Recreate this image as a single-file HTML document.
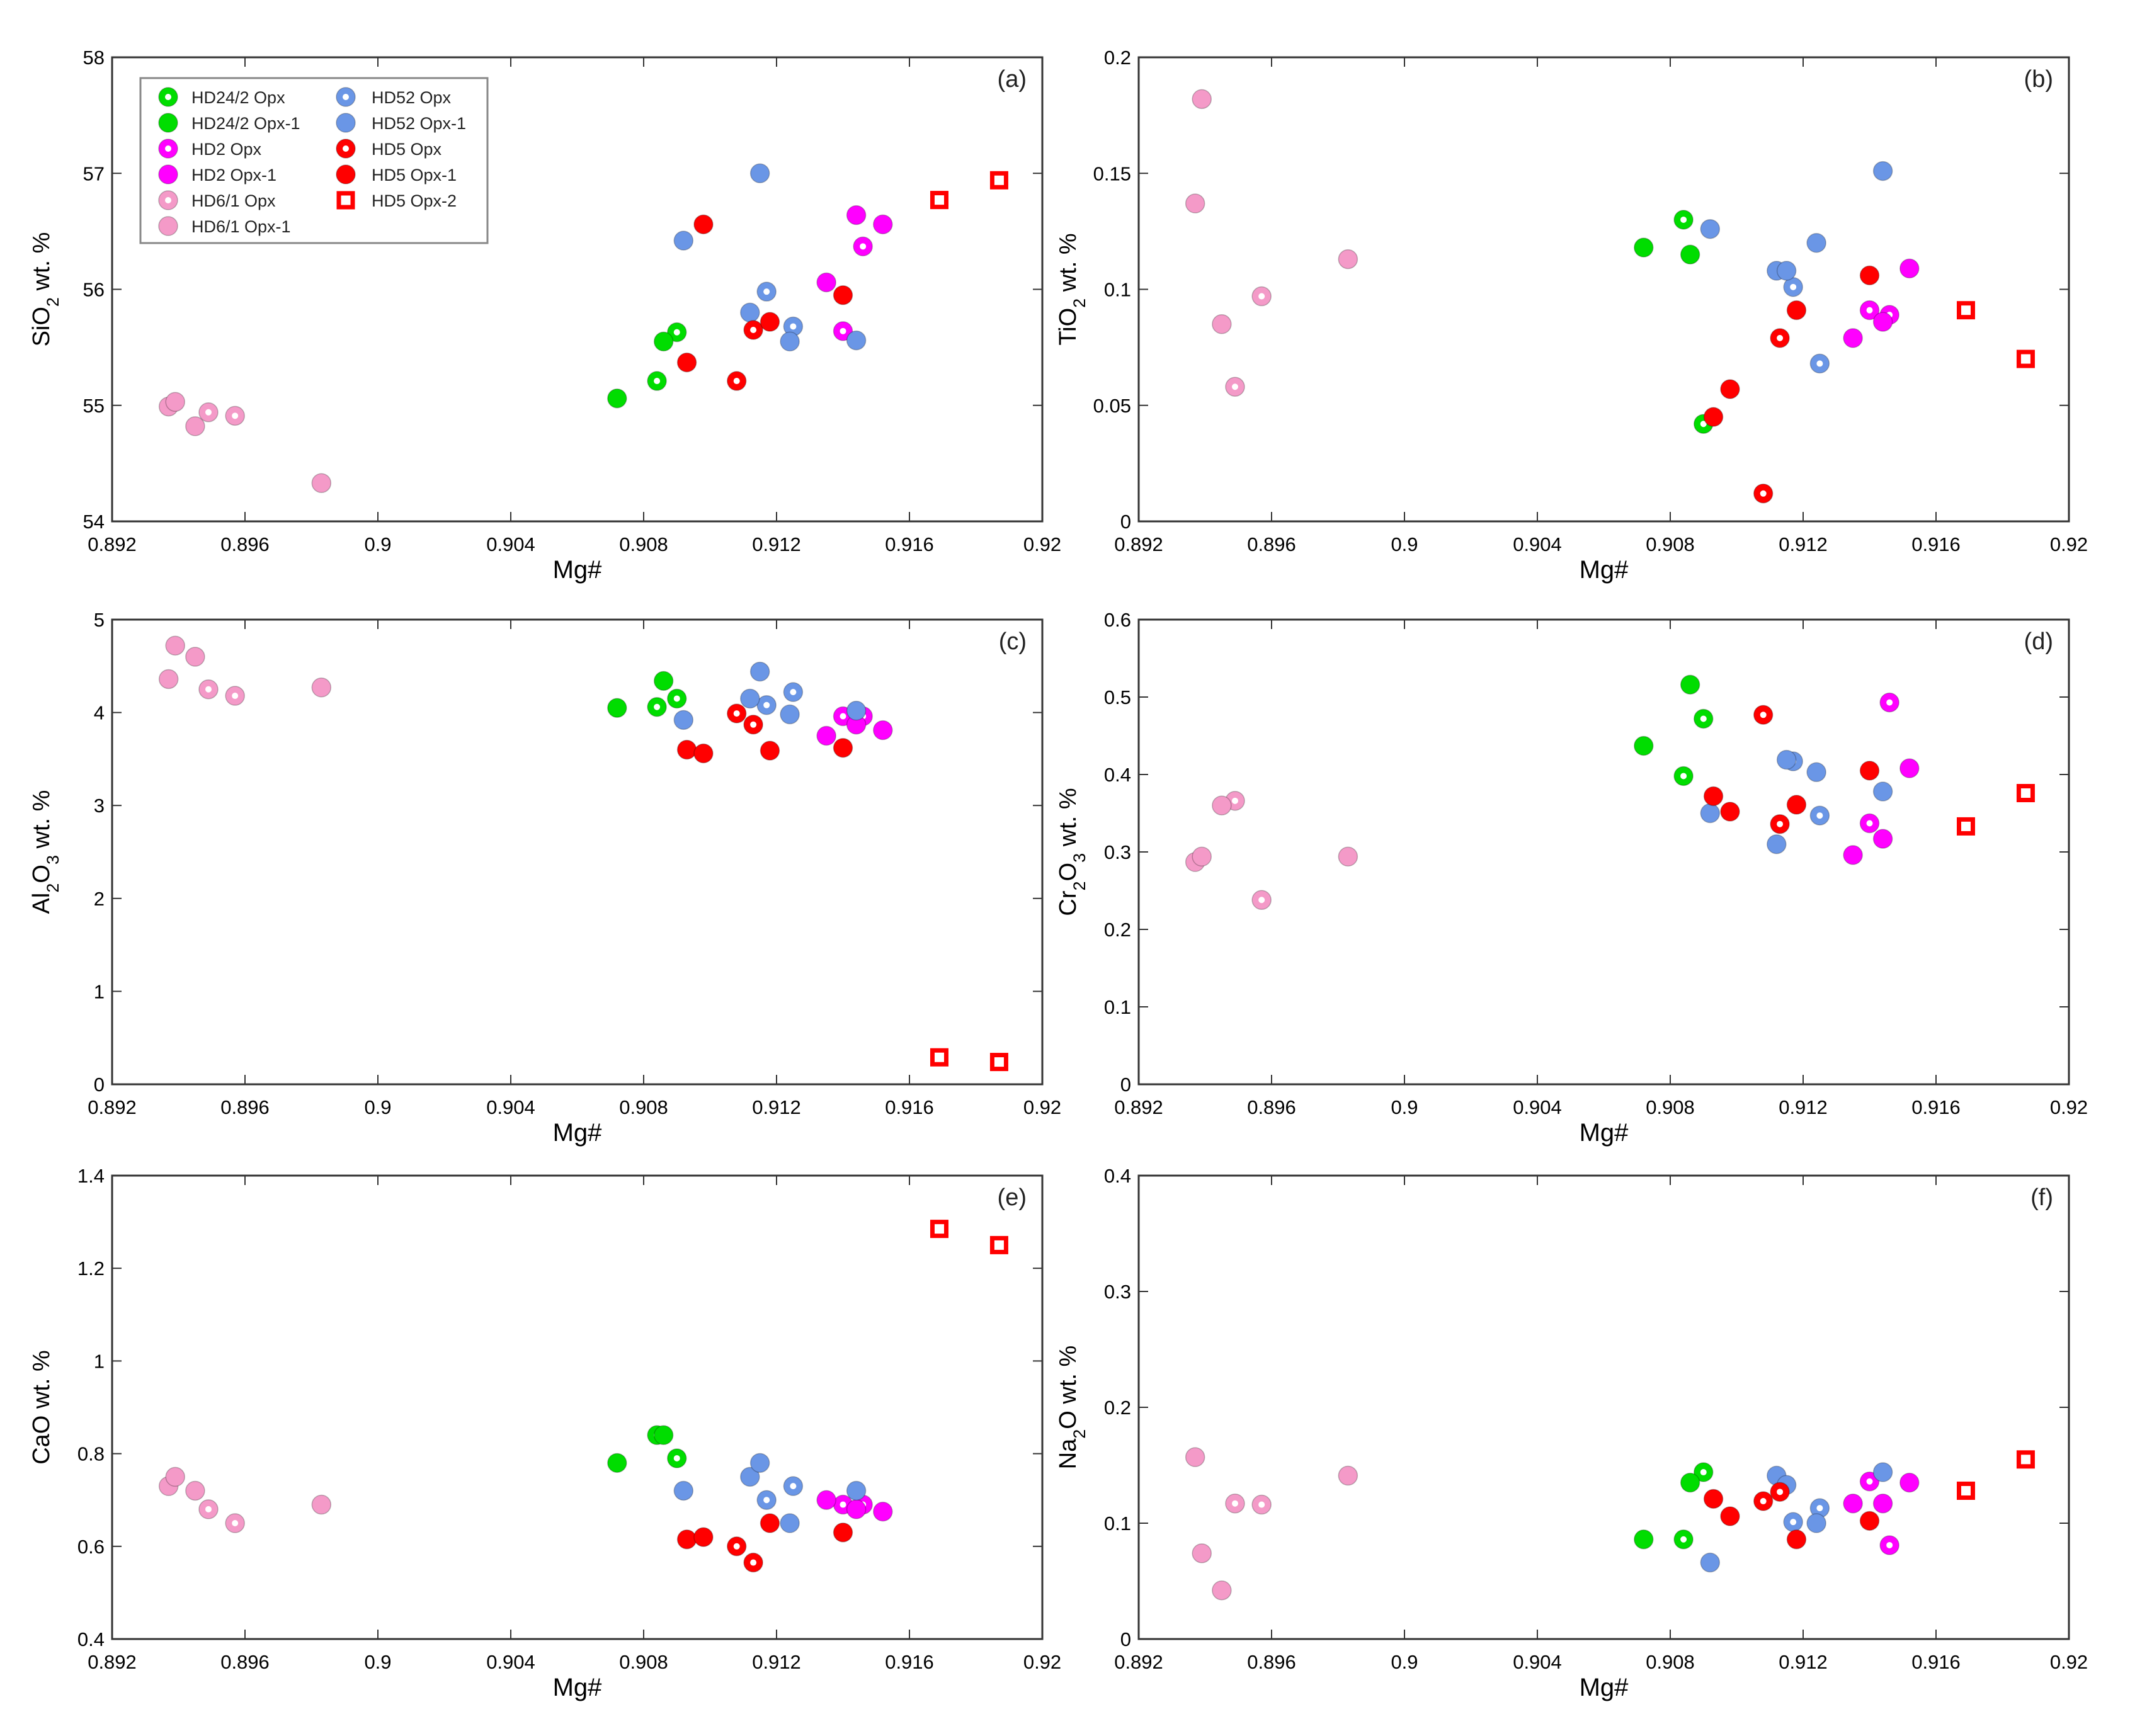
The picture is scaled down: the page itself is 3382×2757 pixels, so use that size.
<!DOCTYPE html>
<html><head><meta charset="utf-8"><style>
html,body{margin:0;padding:0;background:#fff;}
svg{display:block;font-family:"Liberation Sans",Arial,sans-serif;}
</style></head><body>
<svg id="fig" width="3382" height="2757" viewBox="0 0 3382 2757" xmlns="http://www.w3.org/2000/svg"></svg>
<script>
// ---- data ----
const xTicks=[0.892,0.896,0.9,0.904,0.908,0.912,0.916,0.92];
const series=["HD24/2 Opx","HD24/2 Opx-1","HD2 Opx","HD2 Opx-1","HD6/1 Opx","HD6/1 Opx-1","HD52 Opx","HD52 Opx-1","HD5 Opx","HD5 Opx-1","HD5 Opx-2"];
const mgHD24o=[0.9084,0.9090];
const mgHD24f=[0.9072,0.9086];
const mgHD2o=[0.9140,0.9146];
const mgHD2f=[0.9135,0.9144,0.9152];
const mgHD6o=[0.8949,0.8957];
const mgHD6f=[0.8937,0.8939,0.8945,0.8983];
const mgHD52o=[0.9117,0.9125];
const mgHD52f=[0.9092,0.9112,0.9115,0.9124,0.9144];
const mgHD5o=[0.9108,0.9113];
const mgHD5f=[0.9093,0.9098,0.9118,0.9140];
const mgHD5s=[0.9169,0.9187];
// SiO2
const siHD24o=[55.21,55.63], siHD24f=[55.06,55.55], siHD2o=[55.64,56.37], siHD2f=[56.06,56.64,56.56], siHD6o=[54.94,54.91], siHD6f=[54.99,55.03,54.82,54.33], siHD52o=[55.98,55.68], siHD52f=[56.42,55.8,57.0,55.55,55.56], siHD5o=[55.21,55.65], siHD5f=[55.37,56.56,55.72,55.95], siHD5s=[56.77,56.94];
// TiO2
const tiHD24o=[0.130,0.042], tiHD24f=[0.118,0.115], tiHD2o=[0.091,0.089], tiHD2f=[0.079,0.086,0.109], tiHD6o=[0.058,0.097], tiHD6f=[0.137,0.182,0.085,0.113], tiHD52o=[0.101,0.068], tiHD52f=[0.126,0.108,0.108,0.12,0.151], tiHD5o=[0.012,0.079], tiHD5f=[0.045,0.057,0.091,0.106], tiHD5s=[0.091,0.070];
// Al2O3
const alHD24o=[4.06,4.15], alHD24f=[4.05,4.34], alHD2o=[3.96,3.96], alHD2f=[3.75,3.87,3.81], alHD6o=[4.25,4.18], alHD6f=[4.36,4.72,4.6,4.27], alHD52o=[4.08,4.22], alHD52f=[3.92,4.15,4.44,3.98,4.02], alHD5o=[3.99,3.87], alHD5f=[3.6,3.56,3.59,3.62], alHD5s=[0.29,0.24];
// Cr2O3
const crHD24o=[0.398,0.472], crHD24f=[0.437,0.516], crHD2o=[0.337,0.493], crHD2f=[0.296,0.317,0.408], crHD6o=[0.366,0.238], crHD6f=[0.287,0.294,0.36,0.294], crHD52o=[0.417,0.347], crHD52f=[0.35,0.31,0.419,0.403,0.378], crHD5o=[0.477,0.336], crHD5f=[0.372,0.352,0.361,0.405], crHD5s=[0.333,0.376];
// CaO
const caHD24o=[0.84,0.79], caHD24f=[0.78,0.84], caHD2o=[0.69,0.69], caHD2f=[0.70,0.68,0.675], caHD6o=[0.68,0.65], caHD6f=[0.73,0.75,0.72,0.69], caHD52o=[0.70,0.73], caHD52f=[0.72,0.75,0.78,0.65,0.72], caHD5o=[0.60,0.565], caHD5f=[0.615,0.62,0.65,0.63], caHD5s=[1.285,1.25];
// Na2O
const naHD24o=[0.086,0.144], naHD24f=[0.086,0.135], naHD2o=[0.136,0.081], naHD2f=[0.117,0.117,0.135], naHD6o=[0.117,0.116], naHD6f=[0.157,0.074,0.042,0.141], naHD52o=[0.101,0.113], naHD52f=[0.066,0.141,0.133,0.1,0.144], naHD5o=[0.119,0.127], naHD5f=[0.121,0.106,0.086,0.102], naHD5s=[0.128,0.155];
const siTicks=[54,55,56,57,58], tiTicks=[0,0.05,0.1,0.15,0.2], alTicks=[0,1,2,3,4,5], crTicks=[0,0.1,0.2,0.3,0.4,0.5,0.6], caTicks=[0.4,0.6,0.8,1,1.2,1.4], naTicks=[0,0.1,0.2,0.3,0.4];

const COL={green:"#00dd00",mag:"#ff00ff",pink:"#f49ac8",blue:"#6a96e6",red:"#ff0000"};
const NS="http://www.w3.org/2000/svg";
const svg=document.getElementById('fig');
function el(t,a,p){const e=document.createElementNS(NS,t);for(const k in a)e.setAttribute(k,a[k]);(p||svg).appendChild(e);return e;}

function marker(g,cx,cy,kind,color){
  let m;
  if(kind==='sq'){
    m=el('rect',{x:cx-11,y:cy-11,width:22,height:22,fill:'#fff',stroke:color,'stroke-width':7},g);
  }else{
    m=el('circle',{cx:cx,cy:cy,r:15,fill:color,stroke:'rgba(0,0,0,0.25)','stroke-width':1.5},g);
    if(kind==='ring'){el('circle',{cx:cx,cy:cy,r:5,fill:'#fff'},g);}
  }
  return m;
}

const panels=[
 {id:'a',L:178,T:91,B:828,label:'SiO',sub:'2',ymin:54,ymax:58,ticks:siTicks,d:[siHD24o,siHD24f,siHD2o,siHD2f,siHD6o,siHD6f,siHD52o,siHD52f,siHD5o,siHD5f,siHD5s]},
 {id:'b',L:1808,T:91,B:828,label:'TiO',sub:'2',ymin:0,ymax:0.2,ticks:tiTicks,d:[tiHD24o,tiHD24f,tiHD2o,tiHD2f,tiHD6o,tiHD6f,tiHD52o,tiHD52f,tiHD5o,tiHD5f,tiHD5s]},
 {id:'c',L:178,T:984,B:1722,label:'Al',sub:'2',post:'O',sub2:'3',ymin:0,ymax:5,ticks:alTicks,d:[alHD24o,alHD24f,alHD2o,alHD2f,alHD6o,alHD6f,alHD52o,alHD52f,alHD5o,alHD5f,alHD5s]},
 {id:'d',L:1808,T:984,B:1722,label:'Cr',sub:'2',post:'O',sub2:'3',ymin:0,ymax:0.6,ticks:crTicks,d:[crHD24o,crHD24f,crHD2o,crHD2f,crHD6o,crHD6f,crHD52o,crHD52f,crHD5o,crHD5f,crHD5s]},
 {id:'e',L:178,T:1867,B:2603,label:'CaO',ymin:0.4,ymax:1.4,ticks:caTicks,d:[caHD24o,caHD24f,caHD2o,caHD2f,caHD6o,caHD6f,caHD52o,caHD52f,caHD5o,caHD5f,caHD5s]},
 {id:'f',L:1808,T:1867,B:2603,label:'Na',sub:'2',post:'O',ymin:0,ymax:0.4,ticks:naTicks,d:[naHD24o,naHD24f,naHD2o,naHD2f,naHD6o,naHD6f,naHD52o,naHD52f,naHD5o,naHD5f,naHD5s]},
];
const mgs=[mgHD24o,mgHD24f,mgHD2o,mgHD2f,mgHD6o,mgHD6f,mgHD52o,mgHD52f,mgHD5o,mgHD5f,mgHD5s];
const kinds=['ring','fill','ring','fill','ring','fill','ring','fill','ring','fill','sq'];
const colors=[COL.green,COL.green,COL.mag,COL.mag,COL.pink,COL.pink,COL.blue,COL.blue,COL.red,COL.red,COL.red];
const W=1477;

panels.forEach(p=>{
  const g=el('g',{});
  
  
  const R=p.L+W;
  const xs=v=>p.L+(v-0.892)/(0.92-0.892)*W;
  const ys=v=>p.B-(v-p.ymin)/(p.ymax-p.ymin)*(p.B-p.T);
  const box=el('rect',{x:p.L,y:p.T,width:W,height:p.B-p.T,fill:'none',stroke:'#333','stroke-width':3},g);
  
  
  xTicks.forEach(t=>{
    const x=xs(t);
    el('line',{x1:x,y1:p.B,x2:x,y2:p.B-15,stroke:'#333','stroke-width':2},g);
    el('line',{x1:x,y1:p.T,x2:x,y2:p.T+15,stroke:'#333','stroke-width':2},g);
    const tx=el('text',{x:x,y:p.B+47,'font-size':31,'text-anchor':'middle',fill:'#000'},g);
    tx.textContent=String(t);
    
    
  });
  p.ticks.forEach(t=>{
    const y=ys(t);
    el('line',{x1:p.L,y1:y,x2:p.L+15,y2:y,stroke:'#333','stroke-width':2},g);
    el('line',{x1:R,y1:y,x2:R-15,y2:y,stroke:'#333','stroke-width':2},g);
    const tx=el('text',{x:p.L-12,y:y+11,'font-size':31,'text-anchor':'end',fill:'#000'},g);
    tx.textContent=String(t);
    
    
  });
  const xl=el('text',{x:p.L+W/2,y:p.B+90,'font-size':40,'text-anchor':'middle',fill:'#000'},g);
  xl.textContent='Mg#';
  
  
  const cy=(p.T+p.B)/2;
  const yl=el('text',{transform:`translate(${p.L-100},${cy}) rotate(-90)`,'font-size':38,'text-anchor':'middle',fill:'#000'},g);
  
  
  let h=p.label;
  if(p.sub)h+=`<tspan baseline-shift="sub" font-size="27">${p.sub}</tspan>`;
  if(p.post)h+=p.post;
  if(p.sub2)h+=`<tspan baseline-shift="sub" font-size="27">${p.sub2}</tspan>`;
  h+=' wt. %';
  yl.innerHTML=h;
  const pl=el('text',{x:R-25,y:p.T+47,'font-size':38,'text-anchor':'end',fill:'#222'},g);
  pl.textContent='('+p.id+')';
  
  
  p.d.forEach((arr,si)=>{
    arr.forEach((v,i)=>{
      const m=marker(g,xs(mgs[si][i]),ys(v),kinds[si],colors[si]);
      
      
    });
  });
});

// legend
const lg=el('g',{});


el('rect',{x:223,y:124,width:551,height:262,fill:'#fff',stroke:'#888','stroke-width':3},lg);
const order=[[0,1,2,3,4,5],[6,7,8,9,10]];
const rowsY=[154,195,236,277,318,359];
order.forEach((col,ci)=>{
  col.forEach((si,ri)=>{
    const mx=ci?549:267, y=rowsY[ri];
    marker(lg,mx,y,kinds[si],colors[si]);
    const t=el('text',{x:ci?590:304,y:y+10,'font-size':27,fill:'#222'},lg);
    t.textContent=series[si];
    
    
  });
});
</script>
</body></html>
